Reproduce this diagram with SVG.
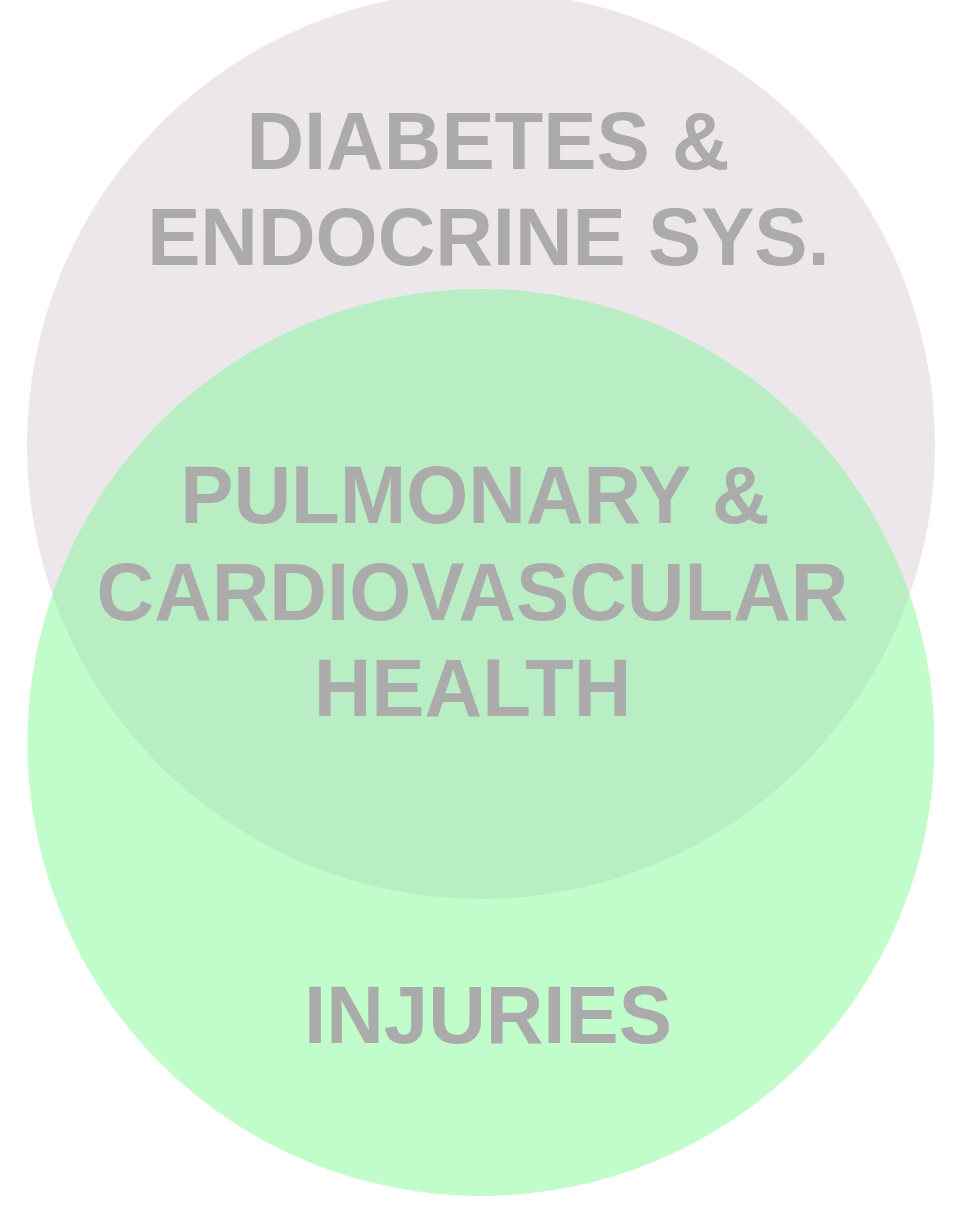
<svg xmlns="http://www.w3.org/2000/svg" width="954" height="1227" viewBox="0 0 954 1227">
<style>
.lbl{font-family:"Liberation Sans",Arial,sans-serif;font-weight:bold;font-size:81px;fill:#ababab;text-anchor:middle}
</style>
<defs>
<clipPath id="clipTop"><circle cx="481" cy="445" r="454"/></clipPath>
</defs>
<rect width="954" height="1227" fill="#ffffff"/>
<g id="set-diabetes">
<circle cx="481" cy="445" r="454" fill="#ede7ec"/>
</g>
<g id="set-injuries">
<circle cx="481" cy="742.5" r="453.5" fill="#c1fdcb"/>
</g>
<g id="set-overlap">
<circle cx="481" cy="742.5" r="453.5" fill="#b9edc3" clip-path="url(#clipTop)"/>
</g>
<g id="labels" transform="scale(0.985 1)">
<text class="lbl" x="495.4" y="169">DIABETES &amp;</text>
<text class="lbl" x="495.9" y="265">ENDOCRINE SYS.</text>
<text class="lbl" x="482.2" y="523">PULMONARY &amp;</text>
<text class="lbl" x="479.7" y="620">CARDIOVASCULAR</text>
<text class="lbl" x="479.7" y="716">HEALTH</text>
<text class="lbl" x="495.4" y="1043">INJURIES</text>
</g>
</svg>
